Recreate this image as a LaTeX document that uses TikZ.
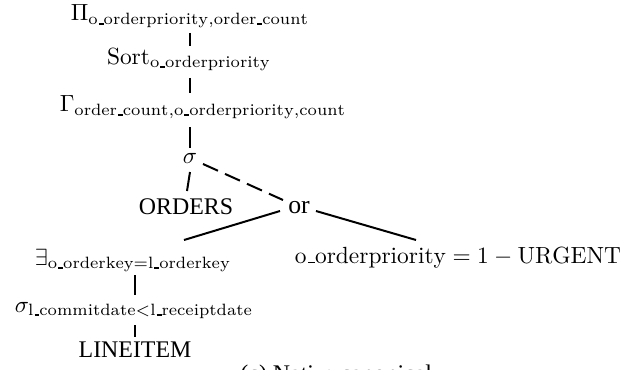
\documentclass[tikz,border=0pt]{standalone}
\usepackage{fontspec}
\newfontfamily\relfont{Liberation Serif}
\usetikzlibrary{calc}
% underscore drawn as a short rule sitting on the baseline, sized for each math style
\newcommand\us{\mathchoice
  {\kern.06em\vbox{\hrule height.45pt width.3em}}
  {\kern.06em\vbox{\hrule height.45pt width.3em}}
  {\kern.042em\vbox{\hrule height.55pt width.21em}}
  {\kern.03em\vbox{\hrule height.4pt width.15em}}}
\newcommand\attr[1]{\mathrm{#1}}

\begin{document}
\begin{tikzpicture}[x=0.4274pt,y=-0.4274pt,
  op/.style={inner sep=0pt, anchor=base},
  rel/.style={inner sep=0pt, anchor=base, font=\relfont\fontsize{10.2}{12}\selectfont},
  edge/.style={line width=0.85pt},
  dashedge/.style={line width=0.85pt, dash pattern=on 7pt off 3.3pt}]
\useasboundingbox (0,0) rectangle (635,369);
\clip (0,0) rectangle (635,369);

% operator tree
\node[op] (pi)     at (190,21)  {$\Pi_{\attr{o\us orderpriority,order\us count}}$};
\node[op] (sort)   at (189,64)  {$\attr{Sort}_{\attr{o\us orderpriority}}$};
\node[op] (gamma)  at (203,112) {$\Gamma_{\attr{order\us count,o\us orderpriority,count}}$};
\node[op] (sigma)  at (190,163) {$\sigma$};
\node[rel] (orders) at (186,214) {ORDERS};
\node[rel,font=\relfont\fontsize{11}{13}\selectfont] (or) at (299,213) {or};
\node[op] (exists) at (133,265) {$\exists_{\attr{o\us orderkey=l\us orderkey}}$};
\node[op] (ordp)   at (458,263) {$\attr{o\us orderpriority}=1-\attr{URGENT}$};
\node[op] (sigmal) at (134,312) {$\sigma_{\attr{l\us commitdate<l\us receiptdate}}$};
\node[rel] (lineitem) at (135,357) {LINEITEM};
\node[rel,anchor=base west] (caption) at (240,381) {(c) Natix: canonical};

% connectors
\draw[edge] ($(pi.base)+(0,12)$) -- ($(sort.base)+(1,-18)$);
\draw[edge] ($(sort.base)+(1,14)$) -- ($(gamma.base -| sigma.base)+(0,-19)$);
\draw[edge] ($(gamma.base -| sigma.base)+(0,15)$) -- ($(sigma.base)+(0,-15)$);
\draw[edge] ($(sigma.base)+(0,9)$) -- ($(orders.base)+(1,-23)$);
\draw[dashedge] ($(sigma.base)+(13,1)$) -- ($(or.base)+(-16,-13)$);
\draw[edge] ($(or.base)+(-19,-2)$) -- ($(exists.base)+(51,-25)$);
\draw[edge] ($(or.base)+(17,-2)$) -- ($(ordp.base)+(-42,-23)$);
\draw[edge] ($(exists.base)+(2,10)$) -- ($(sigmal.base)+(1,-17)$);
\draw[edge] ($(sigmal.base)+(1,13)$) -- ($(lineitem.base)+(0,-20)$);
\end{tikzpicture}
\end{document}
